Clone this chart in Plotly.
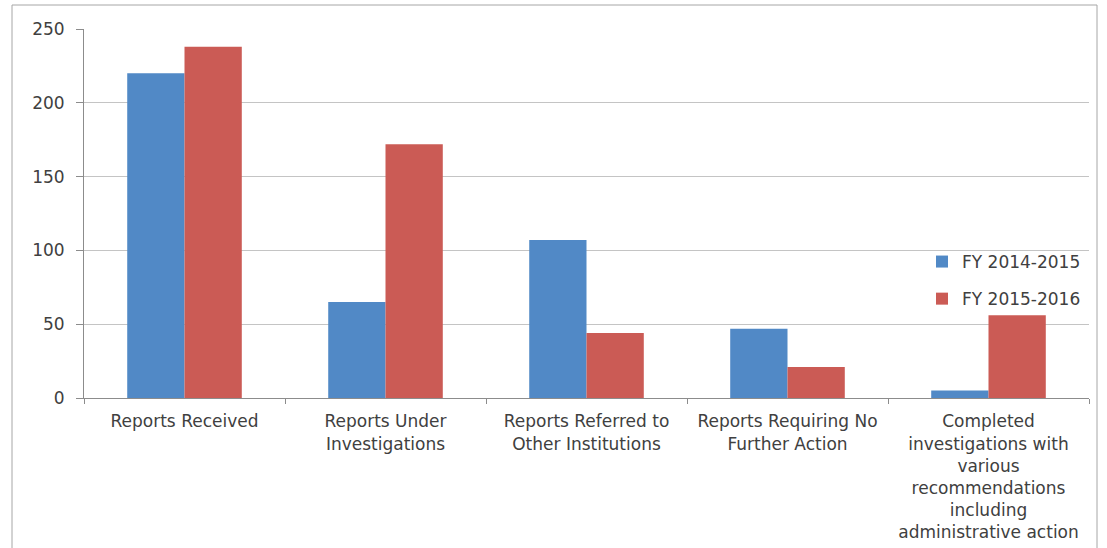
import plotly.graph_objects as go

# Categories and yearly report counts
categories = [
    "Reports Received",
    "Reports Under<br>Investigations",
    "Reports Referred to<br>Other Institutions",
    "Reports Requiring No<br>Further Action",
    "Completed<br>investigations with<br>various<br>recommendations<br>including<br>administrative action",
]
fy_2014_2015 = [220, 65, 107, 47, 5]
fy_2015_2016 = [238, 172, 44, 21, 56]
series_names = ["FY 2014-2015", "FY 2015-2016"]
y_ticks = [0, 50, 100, 150, 200, 250]

W, H = 1107, 548
ML, MR, MT, MB = 84, 18, 29, 150
pw, ph = W - ML - MR, H - MT - MB


def px_x(x):
    return (x - ML) / pw


def px_y(y):
    return (H - MB - y) / ph


blue = "#5189C6"
red = "#CB5B55"
text_col = "#404040"
font_family = "DejaVu Sans, Verdana, sans-serif"

fig = go.Figure()
fig.add_trace(go.Bar(x=categories, y=fy_2014_2015, name=series_names[0],
                     marker=dict(color=blue, line=dict(width=0)),
                     legendgroup="a"))
fig.add_trace(go.Bar(x=categories, y=fy_2015_2016, name=series_names[1],
                     marker=dict(color=red, line=dict(width=0)),
                     legendgroup="b"))

fig.update_layout(
    width=W, height=H,
    margin=dict(l=ML, r=MR, t=MT, b=MB, pad=0),
    paper_bgcolor="white", plot_bgcolor="white",
    barmode="group", bargap=0.43, bargroupgap=0,
    font=dict(family=font_family, color=text_col, size=17),
    legend=dict(
        x=px_x(922), y=px_y(244), xanchor="left", yanchor="top",
        bgcolor="rgba(0,0,0,0)", traceorder="grouped", tracegroupgap=12,
        itemwidth=30, font=dict(size=17, color=text_col, family=font_family),
    ),
    xaxis=dict(
        type="category", showgrid=False, showline=True, linecolor="#8C8C8C",
        linewidth=1, ticks="outside", tickson="boundaries", ticklen=5,
        tickcolor="#8C8C8C", tickfont=dict(size=17, color=text_col),
        tickangle=0, ticklabelstandoff=8, automargin=False,
    ),
    yaxis=dict(
        range=[0, 250], tickvals=y_ticks, showgrid=True, gridcolor="#C4C4C4",
        gridwidth=1, showline=True, linecolor="#8C8C8C", linewidth=1,
        ticks="outside", ticklen=7, tickcolor="#8C8C8C",
        ticklabelstandoff=8, tickfont=dict(size=17, color=text_col),
        zeroline=False, automargin=False,
    ),
    shapes=[dict(
        type="rect", xref="paper", yref="paper",
        x0=px_x(12), x1=px_x(1097), y0=px_y(560), y1=px_y(5),
        line=dict(color="#A6A6A6", width=1), fillcolor="rgba(0,0,0,0)",
        layer="below",
    )],
)

fig.write_html("out.html")
